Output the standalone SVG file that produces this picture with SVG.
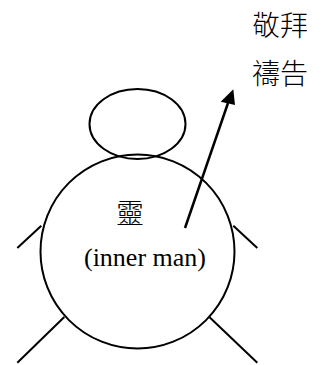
<svg xmlns="http://www.w3.org/2000/svg" width="324" height="365" viewBox="0 0 324 365">
<defs>
<style>
.s{fill:none;stroke:#000;stroke-width:2}
.cjk{font-family:"Noto Sans CJK TC","Noto Sans CJK SC",sans-serif;font-size:28px;font-weight:300;fill:#000}
.lat{font-family:"Liberation Serif","Times New Roman",serif;font-size:26px;fill:#000}
</style>
</defs>
<rect width="324" height="365" fill="#fff"/>
<g id="head"><ellipse class="s" cx="137.5" cy="124" rx="48" ry="35" fill="#fff"/></g>
<g id="body"><circle class="s" cx="137.5" cy="251.5" r="97" fill="#fff"/>
<text class="cjk" x="130" y="224" text-anchor="middle">靈</text>
<text class="lat" x="145" y="266" text-anchor="middle">(inner man)</text>
</g>
<g id="limbs">
<line class="s" x1="17.3" y1="248" x2="41.3" y2="225.7"/>
<line class="s" x1="233.3" y1="225.7" x2="257.3" y2="248"/>
<line class="s" x1="64.3" y1="317" x2="17.3" y2="362.7"/>
<line class="s" x1="209.3" y1="317" x2="257.3" y2="362.7"/>
</g>
<g id="label"><text class="cjk" x="252" y="36">敬拜</text><text class="cjk" x="252" y="84">禱告</text></g>
<g id="connectors">
<line x1="185" y1="228" x2="228" y2="103" stroke="#000" stroke-width="2.5"/>
<path d="M233.3,89.3 L220.7,101.7 L235,105 Z" fill="#000"/>
</g>
</svg>
